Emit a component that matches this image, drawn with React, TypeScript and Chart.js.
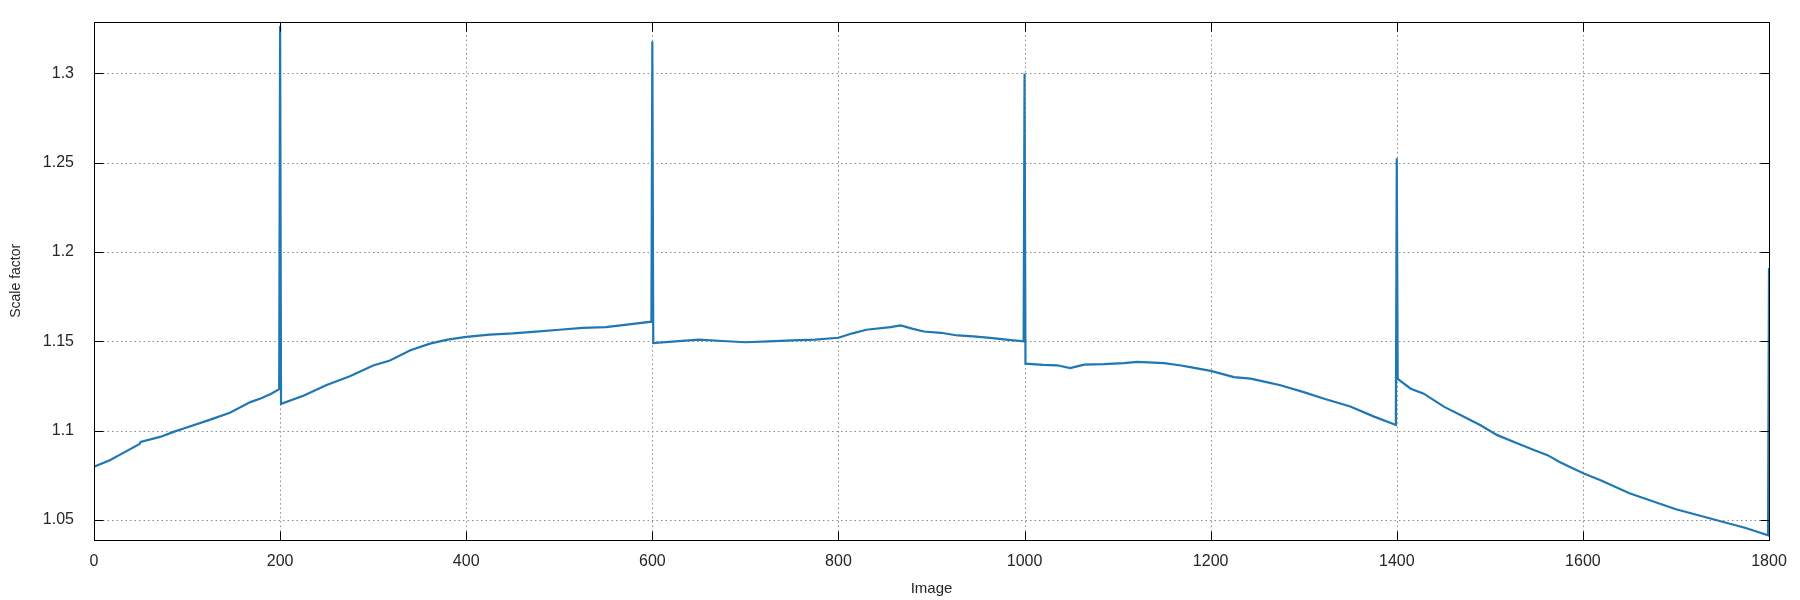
import React, { useEffect, useRef } from "react";
import { Chart, registerables } from "chart.js";

Chart.register(...registerables);

const IMAGE_INDEX = [
  0, 17, 33, 49, 50, 71, 87, 98, 125, 146, 168, 179, 190, 199,
  200, 201, 225, 250, 275, 300, 318, 340, 361, 380, 400, 425, 450, 475, 500, 525, 550, 575, 599,
  600, 601, 625, 650, 675, 700, 725, 750, 775, 800, 815, 830, 856, 867, 880, 892, 910, 928, 945, 963, 980, 999,
  1000, 1001, 1020, 1035, 1049, 1064, 1085, 1107, 1121, 1150, 1168, 1178, 1200, 1225, 1243, 1260, 1275, 1300, 1322, 1350, 1375, 1399,
  1400, 1401, 1415, 1429, 1451, 1469, 1490, 1508, 1530, 1548, 1562, 1576, 1601, 1619, 1650, 1675, 1700, 1725, 1750, 1775, 1799,
  1800,
];

const SCALE_FACTOR = [
  1.0798, 1.0835, 1.088, 1.0925, 1.0937, 1.0965, 1.0996, 1.1015, 1.1062, 1.11, 1.116, 1.118, 1.1205, 1.1232,
  1.3265, 1.115, 1.1195, 1.1256, 1.1305, 1.1365, 1.1393, 1.145, 1.1487, 1.151, 1.1525, 1.1538, 1.1545, 1.1555, 1.1565, 1.1575, 1.158, 1.1595, 1.161,
  1.318, 1.149, 1.15, 1.151, 1.1502, 1.1495, 1.15, 1.1505, 1.151, 1.152, 1.1545, 1.1565, 1.158, 1.1589, 1.157, 1.1555, 1.1548, 1.1533, 1.1528, 1.152, 1.151, 1.15,
  1.3, 1.1375, 1.1368, 1.1366, 1.135, 1.137, 1.1372, 1.1378, 1.1385, 1.1378, 1.1365, 1.1356, 1.1335, 1.13, 1.1291, 1.1272, 1.1254, 1.1216, 1.1179, 1.1135, 1.108, 1.1032,
  1.2525, 1.129, 1.1235, 1.1207, 1.1133, 1.1086, 1.103, 1.0975, 1.0928, 1.089, 1.0863, 1.0822, 1.076, 1.0723, 1.065, 1.0605, 1.056, 1.0525, 1.049, 1.0455, 1.0415,
  1.191,
];

const X_TICKS = [0, 200, 400, 600, 800, 1000, 1200, 1400, 1600, 1800];
const Y_TICKS = [1.05, 1.1, 1.15, 1.2, 1.25, 1.3];
const X_TITLE = "Image";
const Y_TITLE = "Scale factor";

const FONT_FAMILY = "'Liberation Sans', Arial, sans-serif";
const TEXT_COLOR = "#262626";
const LINE_COLOR = "#1f77b4";

const framePlugin = {
  id: "gnuplotFrame",
  beforeDatasetsDraw(chart: any) {
    const { ctx, chartArea: a, scales } = chart;
    const x = scales.x;
    const y = scales.y;
    ctx.save();
    ctx.strokeStyle = "#8a8a8a";
    ctx.lineWidth = 1;
    ctx.setLineDash([1.5, 3]);
    for (const v of X_TICKS) {
      const px = Math.round(x.getPixelForValue(v)) + 0.5;
      if (px <= a.left + 1 || px >= a.right - 1) continue;
      ctx.beginPath();
      ctx.moveTo(px, a.top);
      ctx.lineTo(px, a.bottom);
      ctx.stroke();
    }
    for (const v of Y_TICKS) {
      const py = Math.round(y.getPixelForValue(v)) + 0.5;
      if (py <= a.top + 1 || py >= a.bottom - 1) continue;
      ctx.beginPath();
      ctx.moveTo(a.left, py);
      ctx.lineTo(a.right, py);
      ctx.stroke();
    }
    ctx.restore();
  },
  afterDatasetsDraw(chart: any) {
    const { ctx, chartArea: a, scales } = chart;
    const x = scales.x;
    const y = scales.y;
    const L = Math.round(a.left) + 0.5;
    const R = Math.round(a.right) + 0.5;
    const T = Math.round(a.top) + 0.5;
    const B = Math.round(a.bottom) + 0.5;
    const tl = 9;
    ctx.save();
    ctx.setLineDash([]);
    ctx.strokeStyle = "#000";
    ctx.lineWidth = 1;
    ctx.strokeRect(L, T, R - L, B - T);
    ctx.beginPath();
    for (const v of X_TICKS) {
      const px = Math.round(x.getPixelForValue(v)) + 0.5;
      ctx.moveTo(px, B);
      ctx.lineTo(px, B - tl);
      ctx.moveTo(px, T);
      ctx.lineTo(px, T + tl);
    }
    for (const v of Y_TICKS) {
      const py = Math.round(y.getPixelForValue(v)) + 0.5;
      ctx.moveTo(L, py);
      ctx.lineTo(L + tl, py);
      ctx.moveTo(R, py);
      ctx.lineTo(R - tl, py);
    }
    ctx.stroke();
    ctx.restore();
  },
};

export default function App() {
  const canvasRef = useRef<HTMLCanvasElement | null>(null);

  useEffect(() => {
    const canvas = canvasRef.current;
    if (!canvas) return;
    const chart = new Chart(canvas, {
      type: "line",
      data: {
        datasets: [
          {
            label: Y_TITLE,
            data: IMAGE_INDEX.map((v, i) => ({ x: v, y: SCALE_FACTOR[i] })),
            borderColor: LINE_COLOR,
            backgroundColor: LINE_COLOR,
            borderWidth: 2.2,
            pointRadius: 0,
            tension: 0,
            fill: false,
          },
        ],
      },
      options: {
        responsive: false,
        animation: false,
        devicePixelRatio: 1,
        layout: { padding: { left: 0, right: 31, top: 20, bottom: 0 } },
        plugins: {
          legend: { display: false },
          tooltip: { enabled: false },
        },
        scales: {
          x: {
            type: "linear",
            min: 0,
            max: 1800,
            afterBuildTicks: (s: any) => {
              s.ticks = X_TICKS.map((v) => ({ value: v }));
            },
            afterFit: (s: any) => {
              s.height = 60;
            },
            grid: { display: false },
            border: { display: false },
            ticks: {
              autoSkip: false,
              maxRotation: 0,
              padding: 4,
              color: TEXT_COLOR,
              font: { family: FONT_FAMILY, size: 16 },
              callback: (v: any) => String(v),
            },
            title: {
              display: true,
              text: X_TITLE,
              color: TEXT_COLOR,
              font: { family: FONT_FAMILY, size: 15 },
              padding: { top: 0, bottom: 2 },
            },
          },
          y: {
            type: "linear",
            min: 1.0388,
            max: 1.329,
            afterBuildTicks: (s: any) => {
              s.ticks = Y_TICKS.map((v) => ({ value: v }));
            },
            afterFit: (s: any) => {
              s.width = 94;
            },
            grid: { display: false },
            border: { display: false },
            ticks: {
              padding: 12,
              color: TEXT_COLOR,
              font: { family: FONT_FAMILY, size: 16 },
              callback: (v: any) => String(Math.round(v * 100) / 100),
            },
            title: {
              display: true,
              text: Y_TITLE,
              color: TEXT_COLOR,
              font: { family: FONT_FAMILY, size: 14 },
              padding: { top: 8, bottom: 0 },
            },
          },
        },
      },
      plugins: [framePlugin],
    });
    return () => chart.destroy();
  }, []);

  return (
    <div style={{ position: "fixed", left: 0, top: 0, width: 1800, height: 600, background: "#fff" }}>
      <canvas ref={canvasRef} width={1800} height={600} style={{ display: "block" }} />
    </div>
  );
}
